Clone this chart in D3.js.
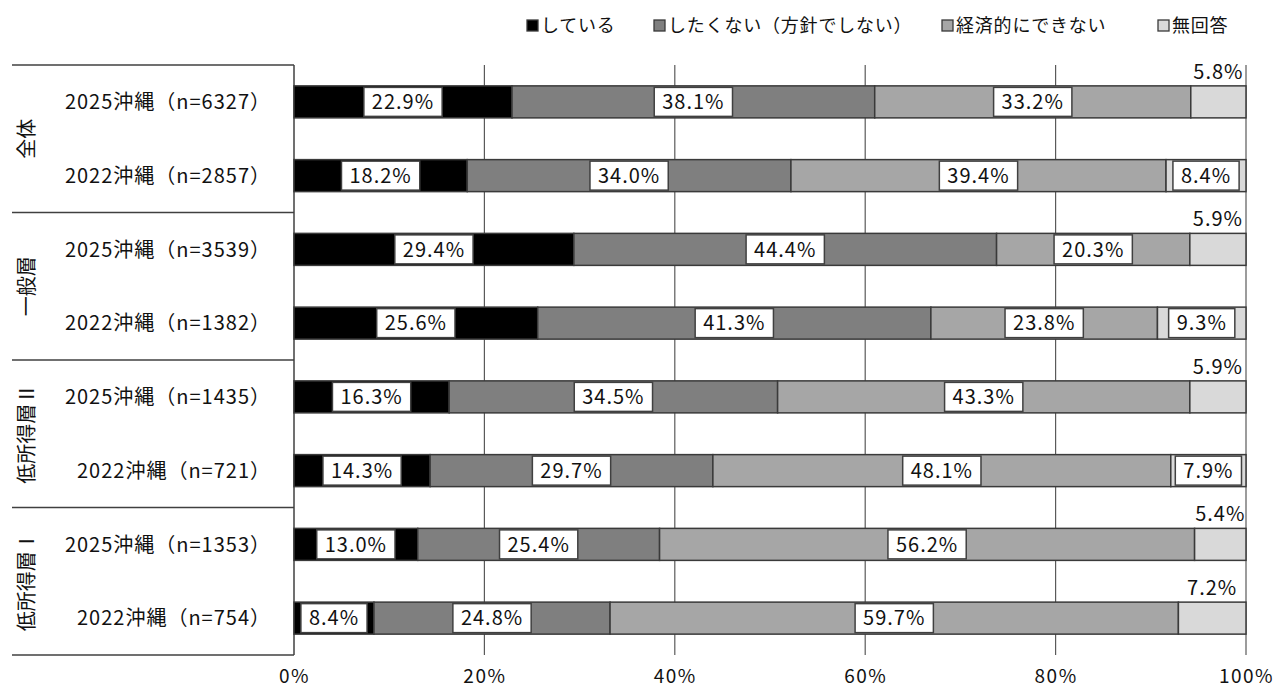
<!DOCTYPE html>
<html><head><meta charset="utf-8">
<script src="https://cdn.jsdelivr.net/npm/d3@7"></script>
<style>
html,body{margin:0;padding:0;background:#fff;}
svg{display:block;font-family:"Noto Sans CJK JP","Noto Sans",sans-serif;}
</style></head>
<body><svg id="chart" width="1277" height="689"></svg>
<script>
const groups = ["全体", "一般層", "低所得層Ⅱ", "低所得層Ⅰ"];
const categories = [
  "2025沖縄（n=6327）", "2022沖縄（n=2857）",
  "2025沖縄（n=3539）", "2022沖縄（n=1382）",
  "2025沖縄（n=1435）", "2022沖縄（n=721）",
  "2025沖縄（n=1353）", "2022沖縄（n=754）"
];
const seriesNames = ["している", "したくない（方針でしない）", "経済的にできない", "無回答"];
const doing     = [22.9, 18.2, 29.4, 25.6, 16.3, 14.3, 13.0, 8.4];
const notWant   = [38.1, 34.0, 44.4, 41.3, 34.5, 29.7, 25.4, 24.8];
const cannot    = [33.2, 39.4, 20.3, 23.8, 43.3, 48.1, 56.2, 59.7];
const noAnswer  = [5.8, 8.4, 5.9, 9.3, 5.9, 7.9, 5.4, 7.2];
const tickValues = [0, 20, 40, 60, 80, 100];
const tickLabels = ["0%", "20%", "40%", "60%", "80%", "100%"];

const colors = ["#000000", "#7f7f7f", "#a6a6a6", "#d9d9d9"];
const seriesData = [doing, notWant, cannot, noAnswer];

const svg = d3.select("#chart");
const pLeft = 294, pRight = 1246, pTop = 65, pBottom = 655;
const x = d3.scaleLinear().domain([0, 100]).range([pLeft, pRight]);
const y = d3.scaleBand().domain(categories).range([pTop, pBottom]).paddingInner(0.566).paddingOuter(0.283);
const fontLab = 20;

// gridlines
svg.append("g").selectAll("line").data(tickValues.slice(1)).join("line")
  .attr("x1", d => x(d)).attr("x2", d => x(d))
  .attr("y1", pTop).attr("y2", pBottom)
  .attr("stroke", "#5a5a5a").attr("stroke-width", 1.2);

// left table lines
const groupBounds = [0, 2, 4, 6, 8];
const boundY = d => d === 0 ? pTop : (d === 8 ? pBottom : y(categories[d]) - y.step() * y.paddingInner() / 2);
svg.append("g").selectAll("line").data(groupBounds).join("line")
  .attr("x1", 12).attr("x2", pLeft)
  .attr("y1", boundY).attr("y2", boundY)
  .attr("stroke", "#404040").attr("stroke-width", 1.5);
svg.append("line").attr("x1", pLeft).attr("x2", pLeft).attr("y1", pTop).attr("y2", pBottom)
  .attr("stroke", "#404040").attr("stroke-width", 1.5);

// stacked data
const rows = categories.map((c, i) => {
  let acc = 0;
  return seriesData.map((s, k) => {
    const seg = {cat: c, k, v: s[i], x0: acc, x1: acc + s[i]};
    acc += s[i];
    return seg;
  });
});
const segs = rows.flat();

svg.append("g").selectAll("rect").data(segs).join("rect")
  .attr("x", d => x(d.x0)).attr("width", d => x(Math.min(d.x1, 100)) - x(d.x0))
  .attr("y", d => y(d.cat)).attr("height", y.bandwidth())
  .attr("fill", d => colors[d.k]).attr("stroke", "#3a3a3a").attr("stroke-width", 1.5);

// value labels
const lab = svg.append("g");
segs.forEach(d => {
  const cx = (x(d.x0) + x(Math.min(d.x1, 100))) / 2;
  const cy = y(d.cat) + y.bandwidth() / 2;
  const txt = d.v.toFixed(1) + "%";
  if (d.k === 3 && d.v < 7.5) {
    lab.append("text").attr("x", cx).attr("y", y(d.cat) - 7)
      .attr("text-anchor", "middle").attr("font-size", fontLab).attr("letter-spacing", 1)
      .attr("fill", "#111").text(txt);
  } else {
    const g = lab.append("g");
    const t = g.append("text").attr("x", cx).attr("y", cy).attr("dy", "0.36em")
      .attr("text-anchor", "middle").attr("font-size", fontLab).attr("letter-spacing", 1)
      .attr("fill", "#111").text(txt);
    const w = t.node().getComputedTextLength() + 16;
    g.insert("rect", "text").attr("x", cx - w / 2).attr("y", cy - 14.5)
      .attr("width", w).attr("height", 29)
      .attr("fill", "#fff").attr("stroke", "#404040").attr("stroke-width", 1.5);
  }
});

// category labels
svg.append("g").selectAll("text").data(categories).join("text")
  .attr("x", 271).attr("y", d => y(d) + y.bandwidth() / 2).attr("dy", "0.36em")
  .attr("text-anchor", "end").attr("font-size", 20).attr("letter-spacing", 1)
  .attr("fill", "#111").text(d => d);

// group labels
svg.append("g").selectAll("text").data(groups).join("text")
  .attr("transform", (d, i) => {
    const cy = (y(categories[2 * i]) + y(categories[2 * i + 1]) + y.bandwidth()) / 2;
    return `translate(27,${cy}) rotate(-90)`;
  })
  .attr("text-anchor", "middle").attr("dy", "0.36em").attr("font-size", 20)
  .attr("fill", "#111").text(d => d);

// x axis
const xAxis = d3.axisBottom(x).tickValues(tickValues).tickFormat((d, i) => tickLabels[i]).tickSize(0).tickPadding(0);
const ax = svg.append("g").attr("transform", `translate(0,${pBottom})`).call(xAxis);
ax.select(".domain").remove();
ax.selectAll("text").attr("y", 21).attr("dy", "0.36em").attr("font-size", 19).attr("letter-spacing", 1.5)
  .attr("font-family", "'Noto Sans CJK JP','Noto Sans',sans-serif").attr("fill", "#111");

// legend
const legX = [527, 654, 942, 1158];
const lg = svg.append("g");
seriesNames.forEach((n, i) => {
  lg.append("rect").attr("x", legX[i]).attr("y", 20).attr("width", 11).attr("height", 11)
    .attr("fill", colors[i]).attr("stroke", "#3a3a3a").attr("stroke-width", 1.3);
  lg.append("text").attr("x", legX[i] + 14).attr("y", 26).attr("dy", "0.36em")
    .attr("font-size", 18).attr("letter-spacing", 0.8).attr("fill", "#111").text(n);
});
</script></body></html>
